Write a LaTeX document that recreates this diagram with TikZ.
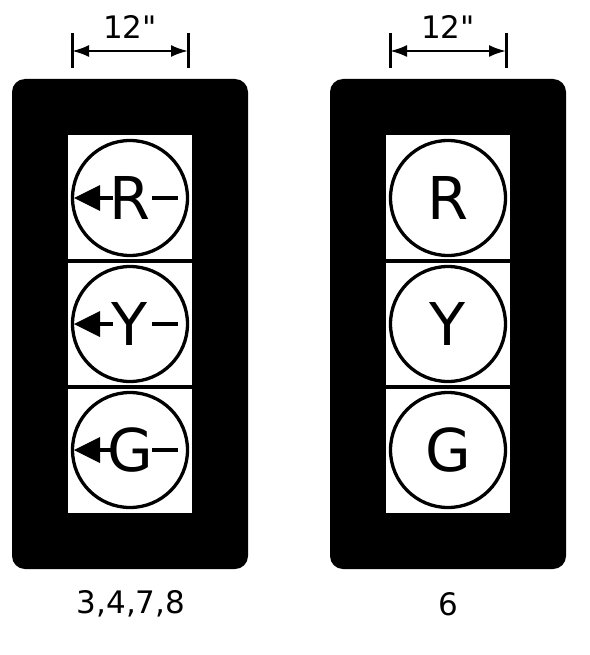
\documentclass[tikz,border=0pt]{standalone}
\usepackage{fontspec}
\setmainfont{DejaVu Sans}[Ligatures=TeXOff]
\usetikzlibrary{arrows.meta}
\tikzset{
  housing/.style={fill=black, rounded corners=13pt},
  window/.style={fill=white},
  sepline/.style={line width=3.4pt},
  lamp/.style={circle, draw, line width=3.3pt, minimum size=115pt, inner sep=0pt, font=\fontsize{59}{61}\selectfont},
  dimtick/.style={line width=3pt},
  dimarrow/.style={line width=2.4pt, {Latex[length=17pt,width=12pt]}-{Latex[length=17pt,width=12pt]}},
  dimtext/.style={font=\fontsize{31}{33}\selectfont, inner sep=0pt},
  arrowline/.style={line width=3.2pt},
}
\begin{document}
\begin{tikzpicture}[x=1pt,y=-1pt]
\useasboundingbox (0,0) rectangle (589,655);
% ---------- left signal ----------
\fill[housing] (12,79) rectangle (248,569);
\fill[window] (68,135) rectangle (192,513);
\draw[sepline] (68,261) -- (192,261);
\draw[sepline] (68,387) -- (192,387);
\node[lamp] (LR) at (130,198) {R};
\node[lamp] (LY) at (130,324) {Y};
\node[lamp] (LG) at (130,450) {G};
\foreach \n in {LR,LY,LG}{
  \fill ([xshift=-56pt]\n.center) -- ([xshift=-30pt,yshift=13pt]\n.center) -- ([xshift=-30pt,yshift=-13pt]\n.center) -- cycle;
  \draw[arrowline] ([xshift=-31pt]\n.center) -- ([xshift=-17pt]\n.center);
  \draw[arrowline] ([xshift=22pt]\n.center) -- ([xshift=48pt]\n.center);
}
\coordinate (LT1a) at (72,33);
\coordinate (LT1b) at (72,68);
\coordinate (LT2a) at (188,33);
\coordinate (LT2b) at (188,68);
\coordinate (LA1) at (72,51);
\coordinate (LA2) at (188,51);
\draw[dimtick] (LT1a) -- (LT1b);
\draw[dimtick] (LT2a) -- (LT2b);
\draw[dimarrow] (LA1) -- (LA2);
\node[dimtext] (Ldim) at (130,27) {12"};
\node[dimtext] (Llab) at (131,604) {3,4,7,8};
% ---------- right signal ----------
\fill[housing] (330,79) rectangle (566,569);
\fill[window] (386,135) rectangle (510,513);
\draw[sepline] (386,261) -- (510,261);
\draw[sepline] (386,387) -- (510,387);
\node[lamp] (RR) at (448,198) {R};
\node[lamp] (RY) at (448,324) {Y};
\node[lamp] (RG) at (448,450) {G};
\coordinate (RT1a) at (390,33);
\coordinate (RT1b) at (390,68);
\coordinate (RT2a) at (506,33);
\coordinate (RT2b) at (506,68);
\coordinate (RA1) at (390,51);
\coordinate (RA2) at (506,51);
\draw[dimtick] (RT1a) -- (RT1b);
\draw[dimtick] (RT2a) -- (RT2b);
\draw[dimarrow] (RA1) -- (RA2);
\node[dimtext] (Rdim) at (448,27) {12"};
\node[dimtext] (Rlab) at (448,604) {6};
\end{tikzpicture}
\end{document}
